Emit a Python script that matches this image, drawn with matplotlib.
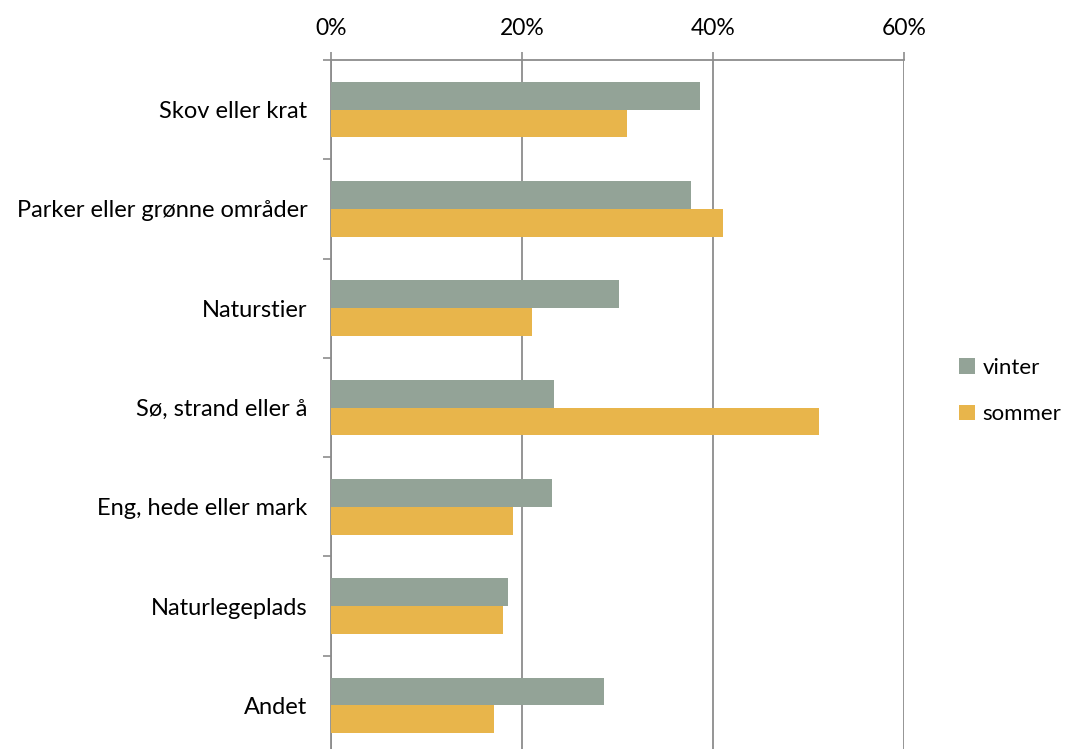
import numpy as np
import matplotlib.pyplot as plt
from matplotlib.ticker import PercentFormatter

plt.rcParams['font.family'] = ['Lato', 'DejaVu Sans']

categories = ['Skov eller krat', 'Parker eller grønne områder', 'Naturstier',
              'Sø, strand eller å', 'Eng, hede eller mark', 'Naturlegeplads', 'Andet']
vinter = [38.6, 37.7, 30.2, 23.4, 23.1, 18.5, 28.6]
sommer = [31.0, 41.0, 21.0, 51.1, 19.1, 18.0, 17.1]

grey = '#8c8c8c'
c_vinter = '#93a397'
c_sommer = '#e8b54b'

fig = plt.figure(figsize=(10.67, 7.49), dpi=100)
ax = fig.add_axes([331 / 1067, -6 / 749, (904 - 331) / 1067, 695 / 749])

y = np.arange(len(categories))
h = 0.28
ax.barh(y - h / 2, vinter, height=h, color=c_vinter, label='vinter', zorder=3)
ax.barh(y + h / 2, sommer, height=h, color=c_sommer, label='sommer', zorder=3)

ax.set_xlim(0, 60)
ax.set_ylim(len(categories) - 0.5, -0.5)

# x axis on top with percent labels
ax.xaxis.tick_top()
ax.set_xticks([0, 20, 40, 60])
ax.xaxis.set_major_formatter(PercentFormatter(decimals=0))
ax.tick_params(axis='x', direction='out', length=6, width=1.2, color=grey,
               pad=9, labelsize=16.5)
ax.grid(axis='x', color=grey, linewidth=1.3, zorder=0)

# category boundaries as ticks, names centred between them
ax.set_yticks(np.arange(len(categories) + 1) - 0.5)
ax.set_yticklabels([])
ax.set_yticks(y, minor=True)
ax.set_yticklabels(categories, minor=True)
ax.tick_params(axis='y', which='major', direction='out', length=6, width=1.2, color=grey)
ax.tick_params(axis='y', which='minor', length=0, pad=17, labelsize=17)

for s in ['right', 'bottom']:
    ax.spines[s].set_visible(False)
for s in ['top', 'left']:
    ax.spines[s].set_color(grey)
    ax.spines[s].set_linewidth(1.3)

ax.legend(loc='center left', bbox_to_anchor=(959 / 1067, 1 - 391 / 749),
          bbox_transform=fig.transFigure, frameon=False, fontsize=16,
          borderpad=0, borderaxespad=0,
          handlelength=0.7, handleheight=0.7, handletextpad=0.35, labelspacing=1.2)

fig.savefig('out.png', dpi=100)
